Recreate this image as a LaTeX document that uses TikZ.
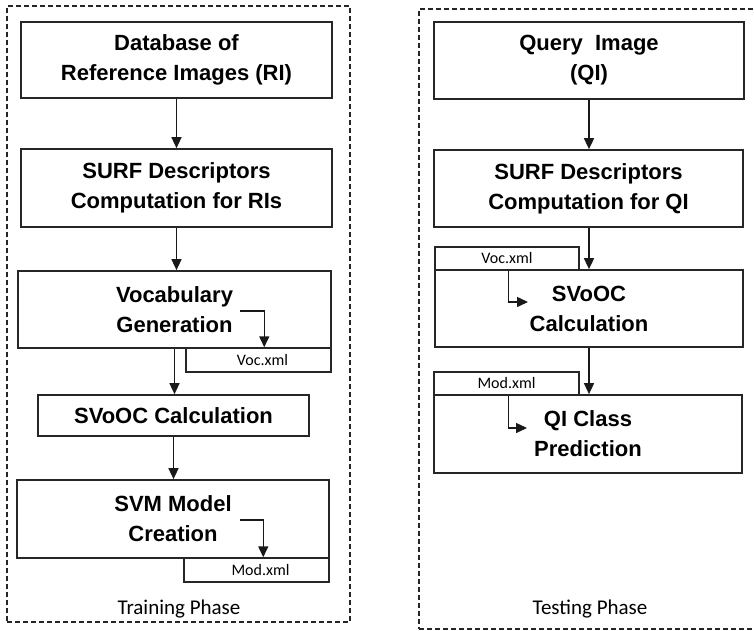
\documentclass[tikz,border=0pt]{standalone}
\usepackage{fontspec}
\setmainfont{Liberation Sans}
\newfontfamily\tabfont{Carlito}
\usetikzlibrary{arrows.meta}
\begin{document}
\begin{tikzpicture}[x=1pt,y=-1pt,
  box/.style={draw=black!85, line width=1.7pt, inner sep=0pt, align=center,
    font=\fontsize{22}{30}\selectfont\bfseries},
  tab/.style={draw=black!85, line width=1.5pt, inner sep=0pt,
    font=\tabfont\fontsize{16}{18}\selectfont},
  frame/.style={draw=black!85, line width=1.4pt, dash pattern=on 5pt off 3pt, inner sep=0pt},
  phase/.style={font=\tabfont\fontsize{21}{24}\selectfont, inner sep=0pt},
  arr/.style={draw=black!90, line width=1.5pt, -{Triangle[length=11pt,width=10pt]}}]
\useasboundingbox (0,0) rectangle (754,631);
% frames
\node[frame, minimum width=343pt, minimum height=616pt] (trainf) at (178.5,314) {};
\node[frame, minimum width=341pt, minimum height=620pt] (testf) at (589.5,319) {};
% left column
\node[box, minimum width=311pt, minimum height=76pt] (db) at (176.5,60) {Database of\\Reference Images (RI)};
\node[box, minimum width=311pt, minimum height=78pt] (surfL) at (176.5,188) {SURF Descriptors\\Computation for RIs};
\node[tab, minimum width=145pt, minimum height=24pt] (vocx) at (258.5,360) {\hspace*{8pt}Voc.xml};
\node[box, minimum width=313pt, minimum height=77pt] (voc) at (174.5,309.5) {Vocabulary\\Generation};
\node[box, minimum width=271pt, minimum height=41pt] (svoocL) at (173.5,415.5) {SVoOC Calculation};
\node[tab, minimum width=145pt, minimum height=24pt] (modx) at (256.5,570) {\hspace*{8pt}Mod.xml};
\node[box, minimum width=312pt, minimum height=78pt] (svm) at (173,519) {SVM Model\\Creation};
\node[phase] (trl) at (179,609) {Training Phase};
% right column
\node[box, minimum width=310pt, minimum height=77pt] (qi) at (589,60.5) {Query~ Image\\(QI)};
\node[box, minimum width=309pt, minimum height=77pt] (surfR) at (588.5,188.5) {SURF Descriptors\\Computation for QI};
\node[tab, minimum width=144pt, minimum height=23pt] (vocxR) at (507,258.5) {Voc.xml};
\node[box, minimum width=308pt, minimum height=77pt] (svoocR) at (589,308.5) {SVoOC\\Calculation};
\node[tab, minimum width=145pt, minimum height=23pt] (modxR) at (506.5,383.5) {Mod.xml};
\node[box, minimum width=308pt, minimum height=78pt] (qic) at (588,434) {QI Class\\Prediction};
\node[phase] (tel) at (590,609) {Testing Phase};
% left arrows
\draw[arr] (db.south) -- (surfL.north);
\draw[arr] (surfL.south) -- (voc.north -| surfL.south);
\draw[arr] (voc.south) -- (voc.south |- svoocL.north);
\draw[arr] (svoocL.south) -- (svoocL.south |- svm.north);
\coordinate (vs) at (240,311);
\draw[arr] (vs) -| ([xshift=79pt]vocx.north west);
\coordinate (ms) at (240,520);
\draw[arr] (ms) -| ([xshift=80pt]modx.north west);
% right arrows
\draw[arr] (qi.south) -- (qi.south |- surfR.north);
\draw[arr] (surfR.south -| qi.south) -- (svoocR.north);
\draw[arr] (svoocR.south) -- (svoocR.south |- qic.north);
\coordinate (ve) at (528,302);
\draw[arr] ([xshift=74pt]vocxR.south west) |- (ve);
\coordinate (me) at (527,428);
\draw[arr] ([xshift=75pt]modxR.south west) |- (me);
\end{tikzpicture}
\end{document}
